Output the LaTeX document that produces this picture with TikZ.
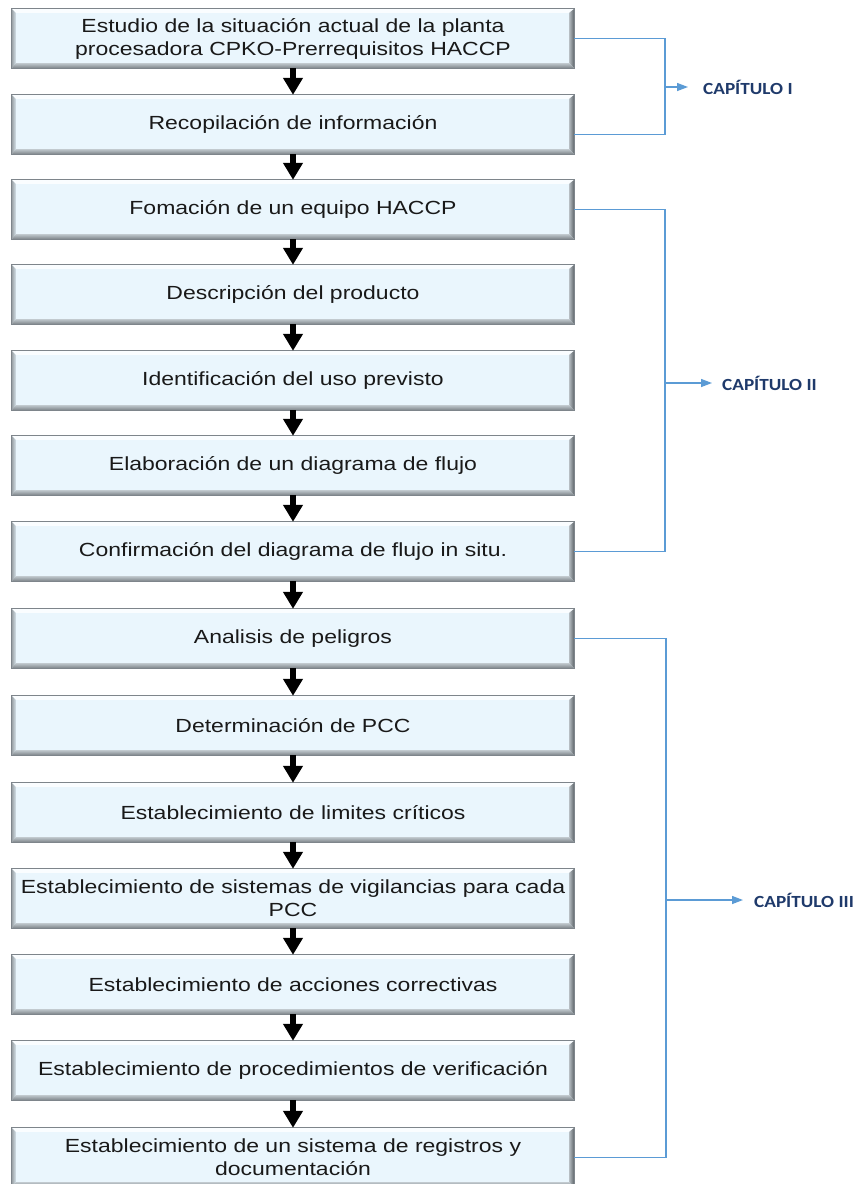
\documentclass[tikz,border=0pt]{standalone}
\usepackage{fontspec}
\setmainfont{Liberation Sans}
\newfontfamily\stepfamily[FakeStretch=1.21]{Liberation Sans}
\newfontfamily\capfamily[FakeStretch=1.13]{Carlito}
\usetikzlibrary{arrows.meta}
\definecolor{boxfill}{HTML}{EAF6FD}
\definecolor{boxedge}{HTML}{7E858B}
\definecolor{bevtop}{HTML}{FAFDFF}
\definecolor{bevleftA}{HTML}{9BA2A7}
\definecolor{bevleftB}{HTML}{D5E1E8}
\definecolor{bevrightA}{HTML}{B3BABF}
\definecolor{bevrightB}{HTML}{5C6368}
\definecolor{bevbotA}{HTML}{BFC7CC}
\definecolor{bevbotB}{HTML}{7C8388}
\definecolor{capline}{HTML}{5B9BD5}
\definecolor{capnavy}{HTML}{1F3A6B}
\tikzset{
  stepbox/.style={fill=boxfill, minimum width=562pt, minimum height=59pt,
    inner sep=0pt, align=center, text=black!90,
    font=\stepfamily\fontsize{19}{23}\selectfont},
  flowarrow/.style={draw=black, line width=6pt, -{Triangle[width=19pt,length=17pt]}},
  bracket/.style={draw=capline, line width=1.3pt},
  caparrow/.style={draw=capline, line width=1.3pt, -{Triangle[width=8pt,length=11pt]}},
  caplabel/.style={anchor=west, inner sep=0pt, text=capnavy,
    font=\capfamily\bfseries\fontsize{17}{20}\selectfont}
}
\begin{document}
\begin{tikzpicture}[x=1pt,y=-1pt]
\useasboundingbox[fill=white] (0,0) rectangle (863,1184);

\node[stepbox] (b1)  at (293,38.5)   {Estudio de la situación actual de la planta\\procesadora CPKO-Prerrequisitos HACCP};
\node[stepbox] (b2)  at (293,124.5)  {Recopilación de información};
\node[stepbox] (b3)  at (293,209.5)  {Fomación de un equipo HACCP};
\node[stepbox] (b4)  at (293,294.5)  {Descripción del producto};
\node[stepbox] (b5)  at (293,380.5)  {Identificación del uso previsto};
\node[stepbox] (b6)  at (293,465.5)  {Elaboración de un diagrama de flujo};
\node[stepbox] (b7)  at (293,551.5)  {Confirmación del diagrama de flujo in situ.};
\node[stepbox] (b8)  at (293,638.5)  {Analisis de peligros};
\node[stepbox] (b9)  at (293,725.5)  {Determinación de PCC};
\node[stepbox] (b10) at (293,812.5)  {Establecimiento de limites críticos};
\node[stepbox] (b11) at (293,898.5)  {Establecimiento de sistemas de vigilancias para cada\\PCC};
\node[stepbox] (b12) at (293,984.5)  {Establecimiento de acciones correctivas};
\node[stepbox] (b13) at (293,1070.5) {Establecimiento de procedimientos de verificación};
\node[stepbox] (b14) at (293,1157.5) {Establecimiento de un sistema de registros y\\documentación};

\foreach \n in {b1,b2,b3,b4,b5,b6,b7,b8,b9,b10,b11,b12,b13,b14}{
  \fill[bevtop] (\n.north west) -- (\n.north east) -- ([shift={(-5pt,-4pt)}]\n.north east) -- ([shift={(4pt,-4pt)}]\n.north west) -- cycle;
  \shade[left color=bevleftA, right color=bevleftB] (\n.south west) -- (\n.north west) -- ([shift={(4pt,-4pt)}]\n.north west) -- ([shift={(4pt,5pt)}]\n.south west) -- cycle;
  \shade[left color=bevrightA, right color=bevrightB] (\n.north east) -- (\n.south east) -- ([shift={(-5pt,5pt)}]\n.south east) -- ([shift={(-5pt,-4pt)}]\n.north east) -- cycle;
  \shade[top color=bevbotA, bottom color=bevbotB] (\n.south west) -- (\n.south east) -- ([shift={(-5pt,5pt)}]\n.south east) -- ([shift={(4pt,5pt)}]\n.south west) -- cycle;
  \draw[boxedge, line width=0.8pt] (\n.south west) rectangle (\n.north east);
}

\foreach \a/\b in {b1/b2,b2/b3,b3/b4,b4/b5,b5/b6,b6/b7,b7/b8,b8/b9,b9/b10,b10/b11,b11/b12,b12/b13,b13/b14}{
  \draw[flowarrow] (\a.south) -- (\b.north);
}

\coordinate (jI) at (665,87);
\coordinate (jII) at (665,383);
\coordinate (jIII) at (666,900);

\node[caplabel] (capI) at (703,87) {CAPÍTULO I};
\node[caplabel] (capII) at (722,383) {CAPÍTULO II};
\node[caplabel] (capIII) at (754,900) {CAPÍTULO III};

\draw[bracket] (b1.east) -| (jI) |- ([yshift=-10pt]b2.east);
\draw[bracket] (b3.east) -| (jII) |- (b7.east);
\draw[bracket] (b8.east) -| (jIII) |- (b14.east);

\draw[caparrow] (jI) -- ([xshift=-15pt]capI.west);
\draw[caparrow] (jII) -- ([xshift=-10pt]capII.west);
\draw[caparrow] (jIII) -- ([xshift=-11pt]capIII.west);
\end{tikzpicture}
\end{document}
